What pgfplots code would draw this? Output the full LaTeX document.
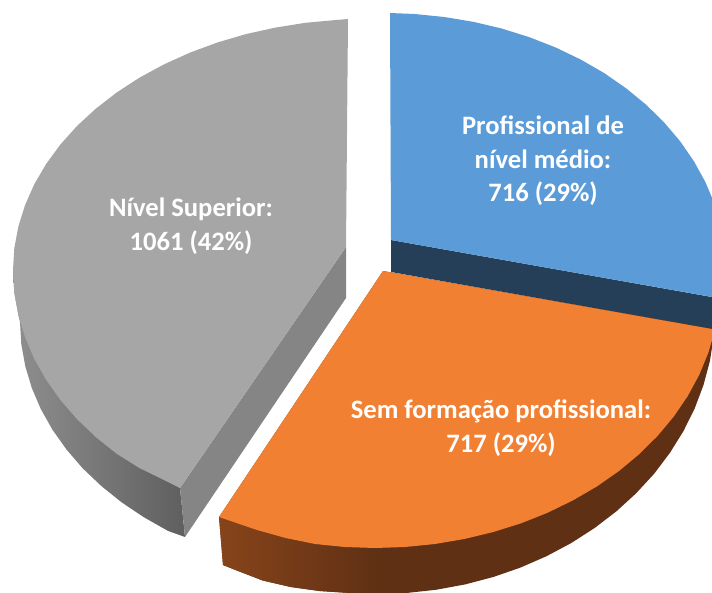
\documentclass[border=0pt]{standalone}
\usepackage{pgfplots}
\pgfplotsset{compat=1.18}
\usepackage{fontspec}
\setmainfont{Carlito}
\definecolor{gtop}{HTML}{A6A6A6}
\definecolor{gcut}{HTML}{858585}
\definecolor{gl}{HTML}{8F8F8F}
\definecolor{gr}{HTML}{5F5F5F}
\definecolor{otop}{HTML}{F28033}
\definecolor{bl}{HTML}{87441A}
\definecolor{br}{HTML}{5F3014}
\definecolor{btop}{HTML}{5B9BD7}
\definecolor{bdark}{HTML}{243F57}
\tikzset{lbl/.style={font=\fontsize{26.6bp}{33.5bp}\selectfont\bfseries, text=white, align=center, inner sep=0pt}}
\begin{document}
\begin{tikzpicture}
\begin{axis}[
  scale only axis, width=712bp, height=593bp,
  xmin=0, xmax=712, ymin=0, ymax=593, y dir=reverse,
  hide axis, clip=true,
]
% grey side
\addplot[draw=none, left color=gl, right color=gr] coordinates {
 (13,270)(14.3,292.7)(18.4,315.1)(20,322)(21.3,344.2)(25.3,366.3)(31.8,388)(40.9,409.2)(52.5,429.8)(66.5,449.5)(82.7,468.3)(101.2,485.9)(121.6,502.3)(144,517.3)(168,530.9)(185,537)(180,488)} --cycle;
% grey cut face
\addplot[draw=none, fill=gcut] coordinates {(346,247)(346,298)(185,537)(180,488)} --cycle;
% grey top
\addplot[draw=none, fill=gtop] coordinates {
 (348,19)(336.1,20)(305.5,22.8)(275.4,27.6)(245.9,34.1)(217.4,42.5)(190,52.6)(164,64.4)(139.4,77.7)(116.7,92.5)(95.8,108.7)(77,126)(60.4,144.5)(46.2,163.9)(34.3,184.2)(25.1,205)(18.4,226.4)(14.3,248.1)(13,270)(14.3,292.7)(18.4,315.1)(25.1,337.3)(34.3,358.9)(46.2,379.9)(60.4,400)(77,419.1)(95.8,437.1)(116.7,453.8)(139.4,468)(164,480)(180,488)(346,247)} --cycle;
% blue side
\addplot[draw=none, fill=bdark] coordinates {(391,240)(714,297.4)(714,329.4)(391,272)} --cycle;
% blue top
\addplot[draw=none, fill=btop] coordinates {
 (390,13)(414.7,14)(444.2,17)(473.3,21.8)(501.6,28.5)(529.1,37.1)(555.5,47.4)(580.6,59.5)(604.2,73.1)(626.1,88.3)(646.2,104.8)(664.3,122.6)(680.3,141.5)(694,161.4)(705.4,182.1)(714.4,203.5)(714.4,297.4)(391,240)} --cycle;
% orange side, solid part
\addplot[draw=none, fill=br] coordinates {
 (219,517)(223,565)(235.6,570)(262.7,580.5)(290.8,587)(319.5,591)(348.6,592.9)(378,594)(407.4,592.9)(436.5,589.7)(465.2,584.4)(493.3,577)(520.4,567.6)(546.5,556.2)(571.3,543)(594.6,528)(616.3,511.4)(636.1,493.3)(654.1,473.8)(669.8,453)(683.4,431.2)(694.7,408.4)(703.5,385)(709.9,361)(713.7,336.6)(714,329)(383,271)} --cycle;
% orange side, lighter left part
\addplot[draw=none, left color=bl, right color=br] coordinates {
 (219,517)(223,565)(235.6,570)(262.7,580.5)(290.8,587)(319.5,591)(348.6,592.9)(378,594)(378,530)} --cycle;
% orange top
\addplot[draw=none, fill=otop] coordinates {
 (383,271)(714.8,329.5)(714.8,330.7)(708.2,353.1)(699.2,374.9)(687.7,396.1)(673.8,416.5)(657.6,435.9)(639.3,454.1)(619,471)(596.8,486.5)(572.9,500.4)(547.5,512.8)(520.8,523.4)(493,532.1)(464.3,539)(434.9,544)(405.1,547)(375,548)(344.9,547)(315.1,544)(285.7,538)(257,530)(229.2,520.5)(219,517)} --cycle;
\node[lbl] at (axis cs:191,226) {Nível Superior:\\1061 (42\%)};
\node[lbl] at (axis cs:543,161) {Profissional de\\nível médio:\\716 (29\%)};
\node[lbl] at (axis cs:501,428) {Sem formação profissional:\\717 (29\%)};
\end{axis}
\pgfresetboundingbox
\useasboundingbox (current axis.south west) rectangle (current axis.north east);
\end{tikzpicture}
\end{document}
